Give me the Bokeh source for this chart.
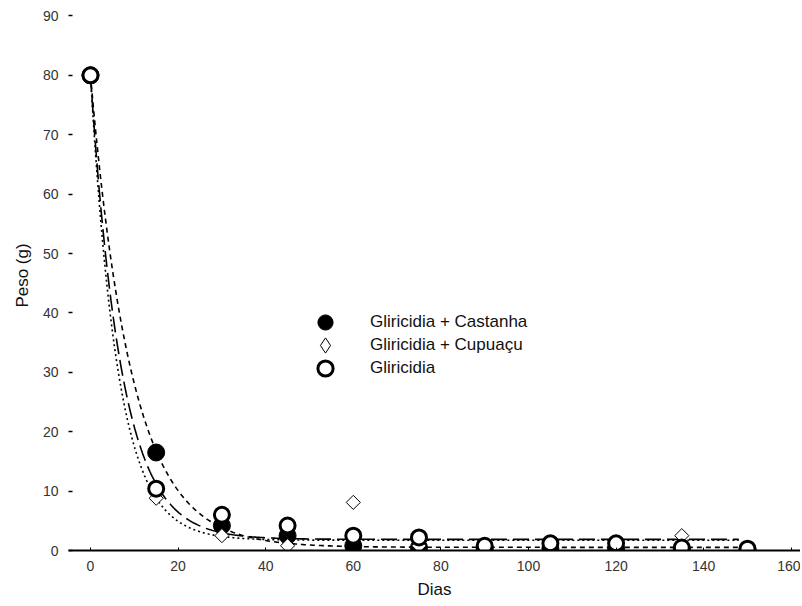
import numpy as np
from bokeh.plotting import figure
from bokeh.models import Legend, LegendItem, FixedTicker, Range1d
from bokeh.embed import file_html
from bokeh.resources import INLINE

# ---- data ----
dias = [0, 15, 30, 45, 60, 75, 90, 105, 120, 135, 150]
castanha = [80, 16.5, 4.2, 2.5, 0.8, 0.5, 0.3, 0.3, 0.3, 0.2, 0.1]
cupuacu = [80, 8.8, 2.5, 0.8, 8.1, 0.8, 0.5, 0.6, 0.5, 2.5, 0.0]
gliricidia = [80, 10.4, 6.0, 4.2, 2.5, 2.2, 0.8, 1.2, 1.2, 0.5, 0.3]
series_names = ["Gliricidia + Castanha", "Gliricidia + Cupuaçu", "Gliricidia"]
x_ticks = [0, 20, 40, 60, 80, 100, 120, 140, 160]
y_ticks = [0, 10, 20, 30, 40, 50, 60, 70, 80, 90]


def fit_decay(t, y):
    """Least-squares fit of y = a*exp(-k t) + c to the data points."""
    t = np.asarray(t, float)
    y = np.asarray(y, float)
    best = None
    for k in np.linspace(0.01, 1.5, 3000):
        X = np.column_stack([np.exp(-k * t), np.ones_like(t)])
        coef, *_ = np.linalg.lstsq(X, y, rcond=None)
        r = float(np.sum((X @ coef - y) ** 2))
        if best is None or r < best[0]:
            best = (r, k, coef)
    _, k, (a, c) = best
    return lambda tt: a * np.exp(-k * tt) + c


tt = np.linspace(0, 148, 600)

p = figure(width=800, height=604, output_backend="svg", toolbar_location=None,
           x_range=Range1d(-5.02, 162.1), y_range=Range1d(0, 92.6),
           min_border_left=68, min_border_right=0, min_border_top=0,
           min_border_bottom=54)
p.outline_line_color = None
p.grid.visible = False
p.background_fill_color = "white"

# fitted curves
p.line(tt, fit_decay(dias, castanha)(tt), line_color="black", line_width=1.6,
       line_dash="5 4")
p.line(tt, fit_decay(dias, cupuacu)(tt), line_color="black", line_width=1.6,
       line_dash="2 3")
p.line(tt, fit_decay(dias, gliricidia)(tt), line_color="black", line_width=1.6,
       line_dash="16 6")

r1 = p.scatter(dias, castanha, marker="circle", size=17, fill_color="black",
               line_color="black")
r2 = p.scatter(dias, cupuacu, marker="square", angle=np.pi / 4, size=10,
               fill_color="white", line_color="black", line_width=1)
r3 = p.scatter(dias, gliricidia, marker="circle", size=15, fill_color="white",
               line_color="black", line_width=3)
# hidden twin of the diamond series, used only for its legend swatch
r2_key = p.scatter(dias, cupuacu, marker="diamond", fill_color="white",
                   line_color="black", line_width=1, visible=False)

legend_renderers = [r1, r2_key, r3]
for i, (name, rend) in enumerate(zip(series_names, legend_renderers)):
    lg = Legend(items=[LegendItem(label=name, renderers=[rend])],
                location=(238, 209 - 23 * i), glyph_width=38, glyph_height=38,
                label_standoff=26, spacing=0, padding=0, margin=0,
                border_line_color=None, background_fill_alpha=0,
                label_text_font_size="17px", label_text_font="Liberation Sans",
                label_text_color="#111111", label_height=20)
    p.add_layout(lg)

xa = p.xaxis[0]
xa.ticker = FixedTicker(ticks=x_ticks)
xa.axis_line_width = 2
xa.major_tick_in = 3
xa.major_tick_out = 0
xa.minor_tick_line_color = None
xa.major_label_text_font = "Liberation Sans"
xa.major_label_text_font_size = "14px"
xa.major_label_text_color = "#333333"
xa.major_label_standoff = 10
xa.axis_label = "Dias"
xa.axis_label_text_font = "Liberation Sans"
xa.axis_label_text_font_size = "17px"
xa.axis_label_text_font_style = "normal"
xa.axis_label_text_color = "#111111"
xa.axis_label_standoff = 6

ya = p.yaxis[0]
ya.ticker = FixedTicker(ticks=y_ticks)
ya.axis_line_color = None
ya.major_tick_in = 4
ya.major_tick_out = 0
ya.major_tick_line_width = 1.5
ya.minor_tick_line_color = None
ya.major_label_text_font = "Liberation Sans"
ya.major_label_text_font_size = "14px"
ya.major_label_text_color = "#333333"
ya.major_label_standoff = 10
ya.axis_label = "Peso (g)"
ya.axis_label_text_font = "Liberation Sans"
ya.axis_label_text_font_size = "17px"
ya.axis_label_text_font_style = "normal"
ya.axis_label_text_color = "#111111"
ya.axis_label_standoff = 8

open("out.html", "w").write(file_html(p, INLINE))
